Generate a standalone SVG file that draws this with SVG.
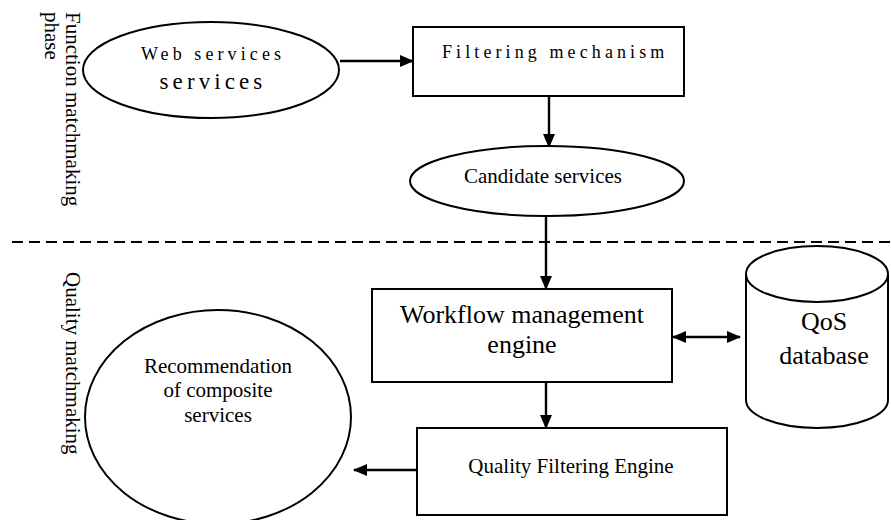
<svg xmlns="http://www.w3.org/2000/svg" width="891" height="520" viewBox="0 0 891 520">
<style>
  .shape { fill: #ffffff; stroke: #000000; stroke-width: 2; }
  .conn { fill: none; stroke: #000000; stroke-width: 2.4; }
  .t { font-family: "Liberation Serif", "Times New Roman", serif; fill: #000000; }
  .c { text-anchor: middle; }
</style>
<defs>
  <marker id="ah" viewBox="0 0 14 12" refX="13" refY="6" markerWidth="14" markerHeight="12" markerUnits="userSpaceOnUse" orient="auto-start-reverse">
    <path d="M0,0 L14,6 L0,12 z" fill="#000000"/>
  </marker>
</defs>
<rect width="891" height="520" fill="#ffffff"/>

<g id="phase-labels">
  <text class="t" font-size="21" transform="translate(66,12) rotate(90)">Function matchmaking</text>
  <text class="t" font-size="21" transform="translate(45,12) rotate(90)">phase</text>
  <text class="t" font-size="21" transform="translate(66,272) rotate(90)">Quality matchmaking</text>
</g>

<g id="divider">
  <line x1="12" y1="242" x2="891" y2="242" stroke="#000000" stroke-width="2" stroke-dasharray="11,6"/>
</g>

<g id="connectors">
  <line class="conn" x1="340" y1="61" x2="413" y2="61" marker-end="url(#ah)"/>
  <line class="conn" x1="549" y1="96" x2="549" y2="147" marker-end="url(#ah)"/>
  <line class="conn" x1="546" y1="216" x2="546" y2="289" marker-end="url(#ah)"/>
  <line class="conn" x1="546" y1="382" x2="546" y2="428" marker-end="url(#ah)"/>
  <line class="conn" x1="417" y1="470" x2="354" y2="470" marker-end="url(#ah)"/>
  <line class="conn" x1="673" y1="337" x2="740" y2="337" marker-start="url(#ah)" marker-end="url(#ah)"/>
</g>

<g id="web-services">
  <ellipse class="shape" cx="211" cy="70" rx="128" ry="48"/>
  <text class="t c" x="213" y="60" font-size="18" letter-spacing="4.1">Web services</text>
  <text class="t c" x="213" y="89" font-size="23" letter-spacing="4.1">services</text>
</g>

<g id="filtering-mechanism">
  <rect class="shape" x="413" y="27" width="271" height="69"/>
  <text class="t" x="442" y="58" font-size="18" letter-spacing="4.1">Filtering mechanism</text>
</g>

<g id="candidate-services">
  <ellipse class="shape" cx="547" cy="181" rx="137" ry="35"/>
  <text class="t c" x="543" y="183" font-size="21">Candidate services</text>
</g>

<g id="workflow-engine">
  <rect class="shape" x="372" y="289" width="300" height="93"/>
  <text class="t c" x="522" y="323" font-size="26">Workflow management</text>
  <text class="t c" x="522" y="353" font-size="26">engine</text>
</g>

<g id="qos-database">
  <path class="shape" d="M746,274 L746,400 A71,28 0 0 0 888,400 L888,274"/>
  <ellipse class="shape" cx="817" cy="274" rx="71" ry="28"/>
  <text class="t c" x="824" y="330" font-size="26">QoS</text>
  <text class="t c" x="824" y="364" font-size="26">database</text>
</g>

<g id="quality-filtering-engine">
  <rect class="shape" x="417" y="428" width="310" height="87"/>
  <text class="t c" x="571" y="473" font-size="21">Quality Filtering Engine</text>
</g>

<g id="recommendation">
  <ellipse class="shape" cx="218" cy="417" rx="133" ry="107"/>
  <text class="t c" x="218" y="373" font-size="21">Recommendation</text>
  <text class="t c" x="218" y="397" font-size="21">of composite</text>
  <text class="t c" x="218" y="422" font-size="21">services</text>
</g>
</svg>
